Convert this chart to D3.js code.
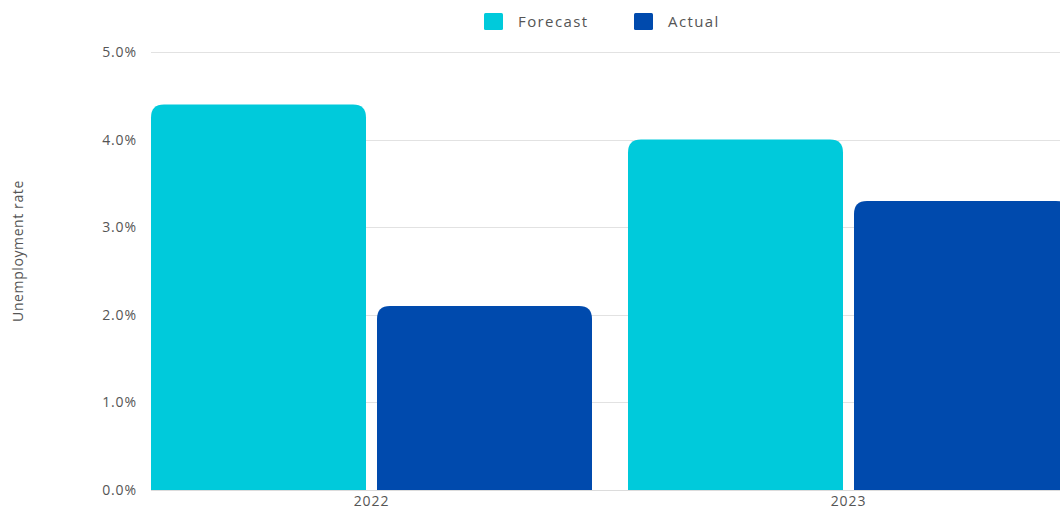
<!DOCTYPE html>
<html><head><meta charset="utf-8">
<script src="https://cdn.jsdelivr.net/npm/d3@7"></script>
<style>
body{margin:0;background:#fff;}
svg{display:block;overflow:hidden;}
text{font-family:"Open Sans","DejaVu Sans",sans-serif;}
</style></head>
<body>
<svg id="c" width="1060" height="510"></svg>
<script>
const categories = ["2022", "2023"];
const seriesNames = ["Forecast", "Actual"];
const forecastValues = [4.4, 4.0];
const actualValues = [2.1, 3.3];
const yTicks = [0, 1, 2, 3, 4, 5];
const colors = ["#00CADB", "#004AAD"];

const svg = d3.select("#c");
const y = d3.scaleLinear().domain([0, 5]).range([490, 52]);
const x0 = d3.scaleBand().domain(categories).range([133, 1087]).paddingInner(36/477).paddingOuter(18/477);
const x1 = d3.scaleBand().domain(seriesNames).range([0, x0.bandwidth()]).paddingInner(11/226);
const color = d3.scaleOrdinal().domain(seriesNames).range(colors);

// gridlines
svg.append("g").selectAll("line").data(yTicks).join("line")
  .attr("x1", 151).attr("x2", 1060)
  .attr("y1", d => Math.round(y(d)) + 0.5).attr("y2", d => Math.round(y(d)) + 0.5)
  .attr("stroke", "#e2e2e2").attr("stroke-width", 1);

// y tick labels
svg.append("g").selectAll("text").data(yTicks).join("text")
  .attr("x", 137).attr("y", d => y(d)).attr("dy", "0.35em")
  .attr("text-anchor", "end").attr("fill", "#555").attr("font-size", 14)
  .attr("letter-spacing", 0.9)
  .text(d => d.toFixed(1) + "%");

// bars
const data = categories.map((c, i) => ({cat: c, vals: [
  {name: "Forecast", v: forecastValues[i]}, {name: "Actual", v: actualValues[i]}]}));

function roundTop(xx, yy, w, h, r) {
  r = Math.min(r, h, w / 2);
  return `M${xx},${yy + h}V${yy + r}Q${xx},${yy} ${xx + r},${yy}H${xx + w - r}Q${xx + w},${yy} ${xx + w},${yy + r}V${yy + h}Z`;
}

const g = svg.append("g").selectAll("g").data(data).join("g")
  .attr("transform", d => `translate(${x0(d.cat)},0)`);
g.selectAll("path").data(d => d.vals).join("path")
  .attr("fill", d => color(d.name))
  .attr("d", d => roundTop(x1(d.name), y(d.v), x1.bandwidth(), y(0) - y(d.v), 13));

// x axis line
svg.append("line").attr("x1", 151).attr("x2", 1060).attr("y1", 490.5).attr("y2", 490.5)
  .attr("stroke", "#dcdcdc");

// x labels
svg.append("g").selectAll("text").data(categories).join("text")
  .attr("x", d => x0(d) + x0.bandwidth() / 2).attr("y", 501).attr("dy", "0.35em")
  .attr("text-anchor", "middle").attr("fill", "#555").attr("font-size", 14)
  .attr("letter-spacing", 0.9)
  .text(d => d);

// y axis title
svg.append("text").attr("transform", "translate(23,251) rotate(-90)")
  .attr("text-anchor", "middle").attr("fill", "#555").attr("font-size", 14)
  .attr("letter-spacing", 0.6)
  .text("Unemployment rate");

// legend
const legX = [484, 634];
const leg = svg.append("g").selectAll("g").data(seriesNames).join("g")
  .attr("transform", (d, i) => `translate(${legX[i]},13)`);
leg.append("rect").attr("width", 19).attr("height", 17).attr("rx", 1.5).attr("fill", d => color(d));
leg.append("text").attr("x", 34).attr("y", 9).attr("dy", "0.35em")
  .attr("fill", "#555").attr("font-size", 15).attr("letter-spacing", 1.4)
  .text(d => d);
</script>
</body></html>
